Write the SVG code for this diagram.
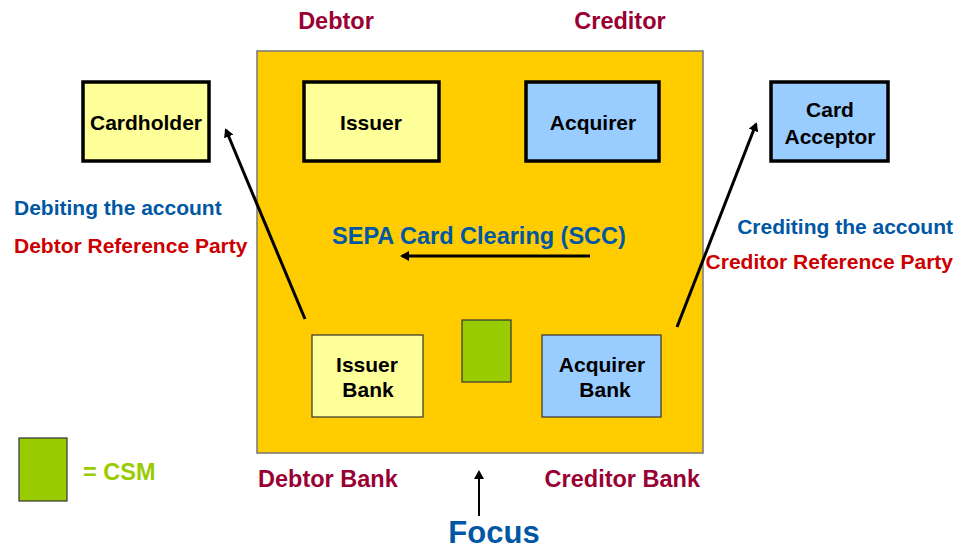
<svg xmlns="http://www.w3.org/2000/svg" width="955" height="549" viewBox="0 0 955 549">
<style>
text{font-family:"Liberation Sans",Arial,sans-serif;font-weight:bold}
.n{font-size:21px;fill:#000;text-anchor:middle}
.hd{font-size:23.5px;fill:#990033}
.bl{font-size:21px;fill:#0057A3}
.rd{font-size:21px;fill:#CC0000}
.thick{stroke:#000;stroke-width:3.5}
.thin{stroke:#333;stroke-width:1.2}
.yel{fill:#FFFF99}
.blu{fill:#99CCFF}
.grn{fill:#99CC00;stroke:#333;stroke-width:1.2}
.ln{stroke:#000;stroke-width:3;fill:none}
</style>
<defs>
<marker id="ah" markerWidth="10" markerHeight="10" refX="7" refY="5" orient="auto" markerUnits="userSpaceOnUse">
<path d="M0,0 L9,5 L0,10 z" fill="#000"/>
</marker>
</defs>
<rect id="frame" x="257" y="51" width="446" height="402" fill="#FFCC00" stroke="#777" stroke-width="1.5"/>
<text class="hd" x="336" y="29" text-anchor="middle">Debtor</text>
<text class="hd" x="620" y="29" text-anchor="middle">Creditor</text>
<g id="cardholder"><rect x="83" y="82" width="126" height="79" class="yel thick"/><text class="n" x="146" y="130">Cardholder</text></g>
<g id="issuer"><rect x="304" y="82" width="135" height="79" class="yel thick"/><text class="n" x="371" y="130">Issuer</text></g>
<g id="acquirer"><rect x="526" y="82" width="133" height="79" class="blu thick"/><text class="n" x="593" y="130">Acquirer</text></g>
<g id="cardacceptor"><rect x="771" y="82" width="117" height="79" class="blu thick"/><text class="n" x="830" y="117">Card</text><text class="n" x="830" y="144">Acceptor</text></g>
<g id="issuerbank"><rect x="312" y="335" width="111" height="82" class="yel thin"/><text class="n" x="367" y="372">Issuer</text><text class="n" x="368" y="397">Bank</text></g>
<g id="acquirerbank"><rect x="542" y="335" width="119" height="82" class="blu thin"/><text class="n" x="602" y="372">Acquirer</text><text class="n" x="605" y="397">Bank</text></g>
<g id="csm"><rect x="462" y="320" width="49" height="62" class="grn"/></g>
<g id="legend"><rect x="19" y="438" width="48" height="63" class="grn"/><text x="83" y="480" font-size="23.5" fill="#99CC00">= CSM</text></g>
<text class="bl" x="14" y="215">Debiting the account</text>
<text class="rd" x="14" y="253">Debtor Reference Party</text>
<text class="bl" x="953" y="234" text-anchor="end">Crediting the account</text>
<text class="rd" x="953" y="269" text-anchor="end">Creditor Reference Party</text>
<text x="479" y="244" font-size="23.5" fill="#0057A3" text-anchor="middle">SEPA Card Clearing (SCC)</text>
<text class="hd" x="258" y="487">Debtor Bank</text>
<text class="hd" x="700" y="487" text-anchor="end">Creditor Bank</text>
<text x="494" y="543" font-size="31" fill="#0057A3" text-anchor="middle">Focus</text>
<g id="connectors">
<line class="ln" x1="590" y1="256" x2="402" y2="256" marker-end="url(#ah)"/>
<line class="ln" x1="305" y1="319" x2="226" y2="130" marker-end="url(#ah)"/>
<line class="ln" x1="677" y1="327" x2="756" y2="124" marker-end="url(#ah)"/>
<line stroke="#000" stroke-width="2" x1="479" y1="516" x2="479" y2="472" marker-end="url(#ah)"/>
</g>
</svg>
